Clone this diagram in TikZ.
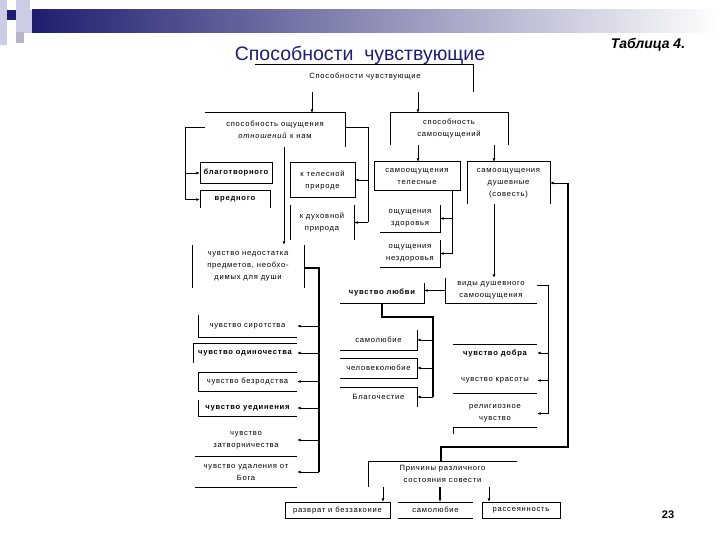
\documentclass[tikz,border=0pt]{standalone}
\usepackage{fontspec}
\setmainfont{Liberation Sans}
\newfontfamily\dfont[LetterSpace=10]{Liberation Sans}
\usetikzlibrary{arrows.meta}
\definecolor{navy}{RGB}{30,30,112}
\definecolor{lav}{RGB}{204,204,228}

\tikzset{
  txt/.style={font=\dfont\fontsize{7.6}{12}\selectfont, align=center, inner sep=0pt},
  btxt/.style={txt, font=\dfont\bfseries\fontsize{7.6}{12}\selectfont},
  edge/.style={line width=0.6pt},
  conn/.style={line width=0.9pt},
  arr/.style={conn, -{Latex[length=3.5pt,width=3pt]}},
}

\begin{document}
\begin{tikzpicture}[x=1pt,y=-1pt]
    \useasboundingbox (0,0) rectangle (720,540);

    % header decoration
    \fill[lav] (0,0) rectangle (7,45);
    \fill[lav] (16,0) rectangle (30,12);
    \fill[lav] (16,10) rectangle (32,33);
    \fill[lav!70!gray] (16,32) rectangle (24,43);
    \fill[navy] (7,10) rectangle (16,20);
    \shade[left color=navy, middle color=gray!60, right color=white] (32,10) rectangle (720,33);

    % titles
    \node[font=\fontsize{19.5}{22}\selectfont, text=navy] (title) at (360,55) {Способности\ \ чувствующие};
    \node[font=\bfseries\itshape\fontsize{14}{16}\selectfont] (tab) at (648,45) {Таблица 4.};
    \node[font=\bfseries\fontsize{11}{13}\selectfont] (page) at (668,515) {23};

    % first level
    \node[txt] (root) at (365,77) {Способности чувствующие};
    \node[txt, minimum width=140, minimum height=34] (oshch) at (275,130) {способность ощущения\\\textit{отношений} к нам};
    \node[txt, minimum width=118, minimum height=32] (samo) at (449,129) {способность\\самоощущений};

    % left branch
    \node[btxt, minimum width=72, minimum height=20] (blag) at (236,173) {благотворного};
    \node[btxt, minimum width=70, minimum height=17] (vred) at (235,199.5) {вредного};
    \node[txt, minimum width=65, minimum height=34] (tel) at (322.5,180) {к телесной\\природе};
    \node[txt, minimum width=64, minimum height=35] (duh) at (322,222.5) {к духовной\\природа};

    % right branch
    \node[txt, minimum width=86, minimum height=28] (samotel) at (417,176) {самоощущения\\телесные};
    \node[txt, minimum width=60, minimum height=27] (zdor) at (410,218.5) {ощущения\\здоровья};
    \node[txt, minimum width=60, minimum height=27] (nezdor) at (410,253.5) {ощущения\\нездоровья};
    \node[txt, minimum width=83, minimum height=42] (dush) at (508.5,183) {самоощущения\\душевные\\(совесть)};

    % lacks of the soul
    \node[txt, minimum width=112, minimum height=43] (nedost) at (248,266.5) {чувство недостатка\\предметов, необхо-\\димых для души};
    \node[txt, minimum width=99, minimum height=22] (sirot) at (247.5,326) {чувство сиротства};
    \node[btxt, minimum width=104, minimum height=20] (odin) at (245,353) {чувство одиночества};
    \node[txt, minimum width=99, minimum height=19] (bezr) at (247.5,381.5) {чувство безродства};
    \node[btxt, minimum width=99, minimum height=16] (uedin) at (247.5,408) {чувство уединения};
    \node[txt, minimum width=102, minimum height=32] (zatv) at (246,440) {чувство\\затворничества};
    \node[txt, minimum width=102, minimum height=30] (udal) at (246,472) {чувство удаления от\\Бога};

    % kinds of soul feeling
    \node[txt, minimum width=92, minimum height=25] (vidy) at (491,290.5) {виды душевного\\самоощущения};
    \node[btxt, minimum width=84, minimum height=20] (lyub) at (382,293) {чувство любви};
    \node[txt, minimum width=77, minimum height=20] (samol) at (378.5,340) {самолюбие};
    \node[txt, minimum width=77, minimum height=20] (chel) at (378.5,368) {человеколюбие};
    \node[txt, minimum width=77, minimum height=20] (blagoch) at (378.5,397) {Благочестие};
    \node[btxt, minimum width=84, minimum height=18] (dobr) at (495,353) {чувство добра};
    \node[txt, minimum width=84, minimum height=25] (kras) at (495,380.5) {чувство красоты};
    \node[txt, minimum width=84, minimum height=27] (relig) at (495,413.5) {религиозное\\чувство};

    % causes
    \node[txt, minimum width=149, minimum height=26] (prich) at (442.5,474) {Причины различного\\состояния совести};
    \node[txt, minimum width=105, minimum height=16] (razvr) at (337.5,510) {разврат и беззаконие};
    \node[txt, minimum width=75, minimum height=16] (samol2) at (435.5,510) {самолюбие};
    \node[txt, minimum width=78, minimum height=16] (rass) at (521,510) {рассеянность};

    % box borders (partly open, as printed)
    \coordinate (ul) at (255,64);
    \draw[edge] (ul) -- (473,64) -- (473,92);
    \draw[edge] (oshch.north west) -- (oshch.north east) -- (oshch.south east);
    \draw[edge] (samo.south west) -- (samo.north west) -- (samo.north east) -- (samo.south east);
    \draw[edge] (blag.north west) rectangle (blag.south east);
    \draw[edge] (vred.south west) -- (vred.north west) -- (vred.north east) -- (vred.south east);
    \draw[edge] (tel.north west) rectangle (tel.south east);
    \draw[edge] (duh.north west) -- (duh.south west) (duh.north east) -- (duh.south east);
    \draw[edge] (samotel.north west) rectangle (samotel.south east);
    \draw[edge] (zdor.north east) -- (zdor.south east) -- (zdor.south west);
    \draw[edge] (nezdor.north east) -- (nezdor.south east) -- (nezdor.south west);
    \draw[edge] (dush.south west) -- (dush.north west) -- (dush.north east) -- (dush.south east);
    \draw[edge] (nedost.north west) -- (nedost.south west) (nedost.north east) -- (nedost.south east);
    \draw[edge] (sirot.north west) -- (sirot.south west) -- (sirot.south east);
    \draw[edge] (odin.south west) -- (odin.north west) -- (odin.north east);
    \draw[edge] (bezr.north east) -- (bezr.north west) -- (bezr.south west) -- (bezr.south east);
    \draw[edge] (uedin.north west) -- (uedin.south west) -- (uedin.south east);
    \draw[edge] (zatv.south west) -- (zatv.south east);
    \draw[edge] (udal.south west) -- (udal.south east);
    \draw[edge] (vidy.north west) -- (vidy.south west) -- (vidy.south east);
    \draw[edge] (lyub.north east) -- (lyub.south east) -- (lyub.south west);
    \draw[edge] (samol.north east) -- (samol.south east) -- (samol.south west);
    \draw[edge] (chel.north west) -- (chel.north east) -- (chel.south east) -- (chel.south west);
    \draw[edge] (blagoch.north west) -- (blagoch.north east) -- (blagoch.south east);
    \draw[edge] (dobr.north west) -- (dobr.north east);
    \draw[edge] (kras.south west) -- (kras.south east);
    \draw[edge] ([yshift=-7]relig.south west) -- (relig.south west) -- (relig.south east);
    \draw[edge] (prich.south west) -- (prich.north west) -- (prich.north east);
    \draw[edge] (razvr.north west) rectangle (razvr.south east);
    \draw[edge] (samol2.north west) -- (samol2.north east) (samol2.south west) -- (samol2.south east);
    \draw[edge] (rass.north west) rectangle (rass.south east);

    % connectors
    \coordinate (r1) at (312,92);
    \coordinate (r2) at (418,92);
    \draw[arr] (r1) -- (r1 |- oshch.north);
    \draw[arr] (r2) -- (r2 |- samo.north);

    \coordinate (ol) at (185,127);
    \draw[conn] (oshch.west |- ol) -- (ol) -- (ol |- vred.west);
    \draw[arr] (ol |- blag.west) -- (blag.west);
    \draw[arr] (ol |- vred.west) -- (vred.west);

    \coordinate (orr) at (368,127);
    \draw[conn] (oshch.east |- orr) -- (orr) -- (orr |- duh.east);
    \draw[arr] (orr |- tel.east) -- (tel.east);
    \draw[arr] (orr |- duh.east) -- (duh.east);

    \coordinate (ob) at (284,0);
    \draw[arr] (ob |- oshch.south) -- (ob |- nedost.north);

    \coordinate (s1) at (418,0);
    \coordinate (s2) at (494,0);
    \draw[arr] (s1 |- samo.south) -- (s1 |- samotel.north);
    \draw[arr] (s2 |- samo.south) -- (s2 |- dush.north);

    \coordinate (tb) at (452,0);
    \draw[conn] (tb |- samotel.south) -- (tb |- nezdor.east);
    \draw[arr] (tb |- zdor.east) -- (zdor.east);
    \draw[arr] (tb |- nezdor.east) -- (nezdor.east);

    \draw[arr] (s2 |- dush.south) -- (s2 |- vidy.north);
    \draw[arr] (vidy.west) -- (lyub.east |- vidy.west);

    \coordinate (vr) at (548,285);
    \draw[conn] (vidy.east |- vr) -- (vr) -- (vr |- relig.east);
    \draw[arr] (vr |- dobr.east) -- (dobr.east);
    \draw[arr] (vr |- kras.east) -- (kras.east);
    \draw[arr] (vr |- relig.east) -- (relig.east);

    \coordinate (lb) at (382,317);
    \coordinate (lr) at (433,317);
    \draw[line width=1.3pt] (lb |- lyub.south) -- (lb) -- (lr) -- (lr |- blagoch.east);
    \draw[arr] (lr |- samol.east) -- (samol.east);
    \draw[arr] (lr |- chel.east) -- (chel.east);
    \draw[arr] (lr |- blagoch.east) -- (blagoch.east);

    \coordinate (nr) at (319,268);
    \draw[line width=1.3pt] (nedost.east |- nr) -- (nr) -- (nr |- udal.east);
    \foreach \n in {sirot,odin,bezr,uedin,zatv,udal}
        \draw[arr] (nr |- \n.east) -- (\n.east);

    \coordinate (pk) at (441,447);
    \coordinate (pr) at (568,447);
    \draw[line width=1.3pt] (pk |- prich.north) -- (pk) -- (pr) -- (pr |- dush.east);
    \draw[arr] (pr |- dush.east) -- (dush.east);

    \coordinate (p1) at (383,0);
    \coordinate (p2) at (440,0);
    \coordinate (p3) at (489,0);
    \draw[arr] (p1 |- prich.south) -- (p1 |- razvr.north);
    \draw[arr, line width=1.3pt] (p2 |- prich.south) -- (p2 |- samol2.north);
    \draw[arr] (p3 |- prich.south) -- (p3 |- rass.north);
\end{tikzpicture}
\end{document}
